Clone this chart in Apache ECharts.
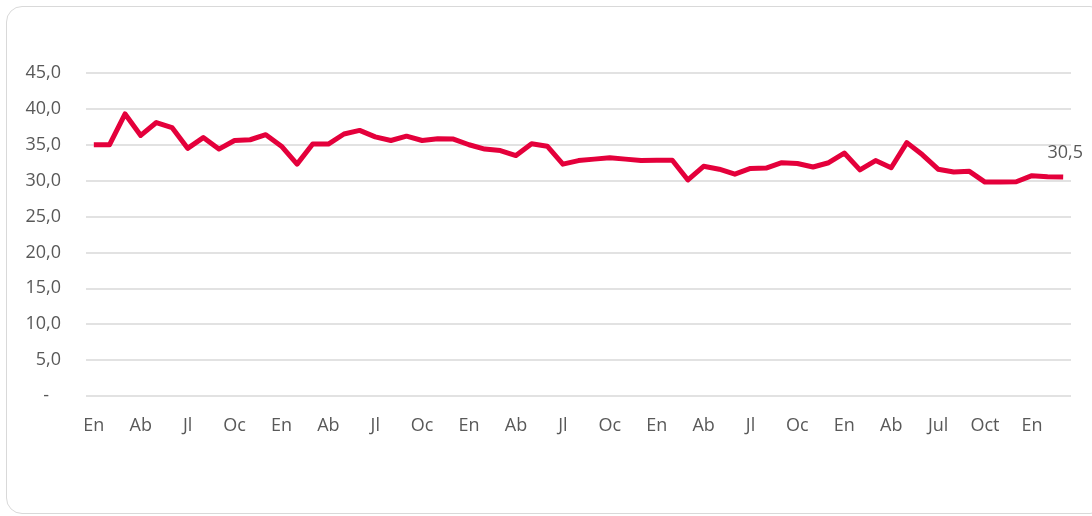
<!DOCTYPE html>
<html>
<head>
<meta charset="utf-8">
<script src="https://cdn.jsdelivr.net/npm/echarts@6/dist/echarts.min.js"></script>
<style>
  html, body { margin: 0; padding: 0; background: #fff; }
  #frame {
    position: absolute; left: 6px; top: 6px; width: 1100px; height: 508px;
    border: 1px solid #d9d9d9; border-radius: 16px; box-sizing: border-box;
  }
  #myChart { position: absolute; left: 0; top: 0; width: 1092px; height: 516px; }
</style>
</head>
<body>
<div id="frame"></div>
<div id="myChart"></div>
<script>
// months shown on the category axis (one per month, label every third one)
var months = [
  'En', 'Fe', 'Mr', 'Ab', 'My', 'Jn', 'Jl', 'Ag', 'Se', 'Oc', 'No', 'Di',
  'En', 'Fe', 'Mr', 'Ab', 'My', 'Jn', 'Jl', 'Ag', 'Se', 'Oc', 'No', 'Di',
  'En', 'Fe', 'Mr', 'Ab', 'My', 'Jn', 'Jl', 'Ag', 'Se', 'Oc', 'No', 'Di',
  'En', 'Fe', 'Mr', 'Ab', 'My', 'Jn', 'Jl', 'Ag', 'Se', 'Oc', 'No', 'Di',
  'En', 'Fe', 'Mr', 'Ab', 'My', 'Jn', 'Jul', 'Ag', 'Se', 'Oct', 'No', 'Di',
  'En', 'Fe', 'Mr'
];
var values = [
  35.0, 35.0, 39.3, 36.3, 38.1, 37.4, 34.5, 36.0, 34.4, 35.6, 35.7, 36.4,
  34.8, 32.3, 35.1, 35.1, 36.5, 37.0, 36.1, 35.6, 36.2, 35.6, 35.85, 35.8,
  35.0, 34.4, 34.2, 33.5, 35.15, 34.8, 32.3, 32.8, 33.0, 33.2, 33.0, 32.8,
  32.85, 32.85, 30.1, 32.0, 31.6, 30.9, 31.7, 31.75, 32.5, 32.4, 31.9, 32.5,
  33.85, 31.5, 32.8, 31.8, 35.3, 33.6, 31.6, 31.2, 31.3, 29.8, 29.8, 29.85,
  30.7, 30.55, 30.5
];
var yTicks = [0, 5, 10, 15, 20, 25, 30, 35, 40, 45];

var textColor = '#595959';
var fontFamily = '"Open Sans", "Noto Sans", sans-serif';
var fontSize = 18;

var myChart = echarts.init(document.getElementById('myChart'));
myChart.setOption({
  animation: false,
  grid: { left: 86, right: 21, top: 73, bottom: 120, containLabel: false },
  xAxis: {
    type: 'category',
    data: months,
    boundaryGap: true,
    axisLine: { show: false },
    axisTick: { show: false },
    axisLabel: {
      interval: 2,
      margin: 21,
      color: textColor,
      fontSize: fontSize,
      fontFamily: fontFamily
    }
  },
  yAxis: {
    type: 'value',
    min: yTicks[0],
    max: yTicks[yTicks.length - 1],
    interval: 5,
    axisLine: { show: false },
    axisTick: { show: false },
    splitLine: { lineStyle: { color: '#d9d9d9', width: 1.5 } },
    axisLabel: {
      margin: 25,
      color: textColor,
      fontSize: fontSize,
      fontFamily: fontFamily,
      formatter: function (v) {
        if (v === 0) return '{dash|-}';
        return v.toFixed(1).replace('.', ',');
      },
      rich: {
        dash: { color: textColor, fontSize: fontSize, fontFamily: fontFamily, padding: [0, 12, 0, 0] }
      }
    }
  },
  series: [
    {
      type: 'line',
      data: values,
      symbol: 'none',
      lineStyle: { color: '#e4003b', width: 5, join: 'round' },
      itemStyle: { color: '#e4003b' },
      markPoint: {
        symbol: 'circle',
        symbolSize: 0,
        data: [{ coord: [values.length - 1, values[values.length - 1]] }],
        label: {
          show: true,
          position: 'top',
          distance: 15,
          offset: [2, 0],
          color: textColor,
          fontSize: fontSize,
          fontFamily: fontFamily,
          formatter: function (p) { return String(p.data.coord[1].toFixed(1)).replace('.', ','); }
        }
      }
    }
  ]
});
</script>
</body>
</html>
